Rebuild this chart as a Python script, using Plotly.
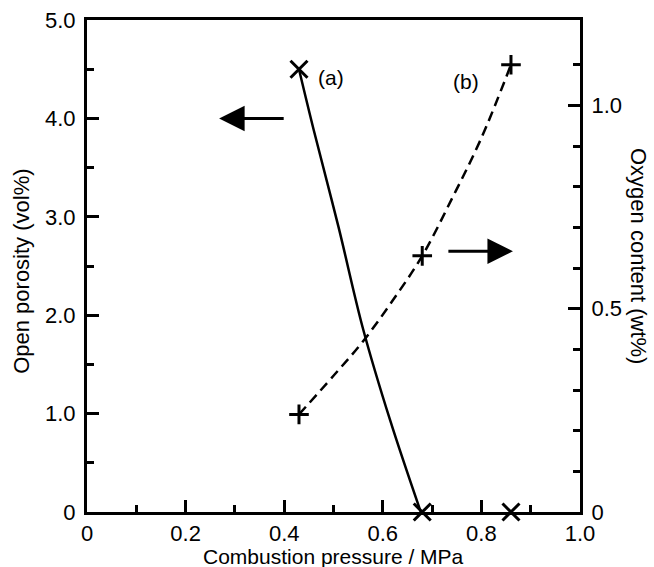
import plotly.graph_objects as go

# Measured points
pressure_a = [0.43, 0.68, 0.86]
porosity_a = [4.5, 0.0, 0.0]
pressure_b = [0.43, 0.68, 0.86]
oxygen_b = [0.24, 0.63, 1.10]

# Fitted curves as drawn in the figure
curve_a_x = [0.43, 0.46, 0.51, 0.56, 0.615, 0.677]
curve_a_y = [4.5, 3.88, 2.90, 1.86, 0.93, 0.0]
curve_b_x = [0.43, 0.50, 0.56, 0.62, 0.68, 0.74, 0.80, 0.86]
curve_b_y = [0.24, 0.335, 0.42, 0.52, 0.63, 0.77, 0.92, 1.10]

x_ticks = [0, 0.2, 0.4, 0.6, 0.8, 1.0]
x_ticklabels = ["0", "0.2", "0.4", "0.6", "0.8", "1.0"]
y1_ticks = [0, 1, 2, 3, 4, 5]
y1_ticklabels = ["0", "1.0", "2.0", "3.0", "4.0", "5.0"]
y2_ticks = [0, 0.5, 1.0]
y2_ticklabels = ["0", "0.5", "1.0"]
y2_minor = [0.1, 0.2, 0.3, 0.4, 0.6, 0.7, 0.8, 0.9, 1.1]

FONT = "Liberation Sans, Arial, Helvetica, sans-serif"
BLACK = "black"
FS = 22

fig = go.Figure()
fig.add_trace(go.Scatter(x=curve_a_x, y=curve_a_y, mode="lines",
                         line=dict(color=BLACK, width=2.5, shape="spline", smoothing=1.0),
                         showlegend=False, hoverinfo="skip"))
fig.add_trace(go.Scatter(x=curve_b_x, y=curve_b_y, mode="lines", yaxis="y2",
                         line=dict(color=BLACK, width=2.5, dash="10px,6px", shape="spline", smoothing=1.0),
                         showlegend=False, hoverinfo="skip"))
fig.add_trace(go.Scatter(x=pressure_a, y=porosity_a, mode="markers", cliponaxis=False,
                         marker=dict(symbol="x-thin", size=17, line=dict(color=BLACK, width=3)),
                         showlegend=False))
fig.add_trace(go.Scatter(x=pressure_b, y=oxygen_b, mode="markers", yaxis="y2", cliponaxis=False,
                         marker=dict(symbol="cross-thin", size=14, line=dict(color=BLACK, width=3)),
                         showlegend=False))

axis_common = dict(showgrid=False, zeroline=False, showline=True, linecolor=BLACK, linewidth=3,
                   ticks="inside", tickcolor=BLACK, tickwidth=2.5, automargin=False,
                   tickfont=dict(family=FONT, size=FS, color=BLACK))

fig.update_layout(
    width=654, height=567,
    margin=dict(l=87, r=74, t=20, b=55),
    plot_bgcolor="white", paper_bgcolor="white",
    font=dict(family=FONT, color=BLACK),
    xaxis=dict(range=[0, 1.0], tickvals=x_ticks, ticktext=x_ticklabels, ticklen=12,
               mirror=True, ticklabelstandoff=0,
               minor=dict(dtick=0.1, ticks="inside", ticklen=7, tickwidth=2.5, tickcolor=BLACK),
               **axis_common),
    yaxis=dict(range=[0, 5.0], tickvals=y1_ticks, ticktext=y1_ticklabels, ticklen=12,
               ticklabelstandoff=4,
               minor=dict(dtick=0.5, ticks="inside", ticklen=7, tickwidth=2.5, tickcolor=BLACK),
               **axis_common),
    yaxis2=dict(range=[0, 1.21], tickvals=y2_ticks, ticktext=y2_ticklabels, ticklen=12,
                overlaying="y", side="right", ticklabelstandoff=4,
                minor=dict(tickvals=y2_minor, ticks="inside", ticklen=7, tickwidth=2.5, tickcolor=BLACK),
                **axis_common),
    annotations=[
        dict(text="Combustion pressure / MPa", xref="paper", yref="paper", x=0.5, y=-0.064,
             showarrow=False, font=dict(family=FONT, size=21),
             xanchor="center", yanchor="top"),
        dict(text="Open porosity (vol%)", xref="paper", yref="paper", x=-0.132, y=0.49,
             textangle=-90, showarrow=False, font=dict(family=FONT, size=FS),
             xanchor="center", yanchor="middle"),
        dict(text="Oxygen content (wt%)", xref="paper", yref="paper", x=1.12, y=0.52,
             textangle=90, showarrow=False, font=dict(family=FONT, size=FS),
             xanchor="center", yanchor="middle"),
        dict(text="(a)", x=0.495, y=4.42, xref="x", yref="y", showarrow=False,
             font=dict(family=FONT, size=21)),
        dict(text="(b)", x=0.769, y=4.37, xref="x", yref="y", showarrow=False,
             font=dict(family=FONT, size=21)),
        dict(x=0.268, y=4.0, ax=0.402, ay=4.0, xref="x", yref="y", axref="x", ayref="y",
             text="", showarrow=True, arrowhead=2, arrowsize=1.7, arrowwidth=3, arrowcolor=BLACK),
        dict(x=0.864, y=2.65, ax=0.73, ay=2.65, xref="x", yref="y", axref="x", ayref="y",
             text="", showarrow=True, arrowhead=2, arrowsize=1.7, arrowwidth=3, arrowcolor=BLACK),
    ],
)

fig.write_html("out.html")
